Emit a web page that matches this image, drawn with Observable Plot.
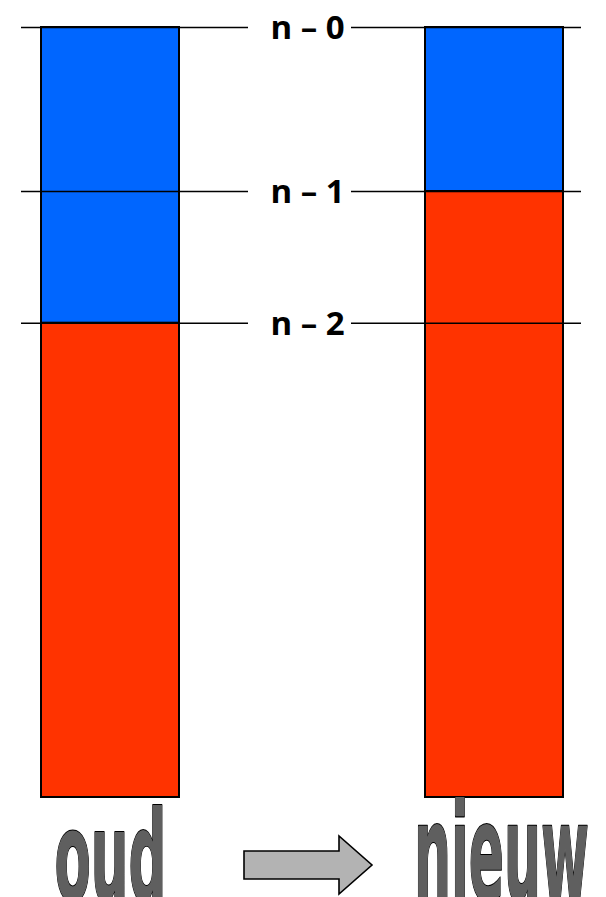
<!DOCTYPE html>
<html>
<head>
<meta charset="utf-8">
<script src="https://cdn.jsdelivr.net/npm/d3@7"></script>
<script src="https://cdn.jsdelivr.net/npm/@observablehq/plot@0.6"></script>
<style>
  html, body { margin: 0; padding: 0; background: #fff; }
  #chart svg { display: block; }
</style>
</head>
<body>
<div id="chart"></div>
<script>
// Categories (periods)
const periods = ["oud", "nieuw"];
// Segment values per period (bottom segment first), total = 100
const redValues = [61.6, 78.7];
const blueValues = [38.4, 21.3];
// Horizontal reference levels and their labels
const levels = [100, 78.7, 61.6];
const levelLabels = ["n – 0", "n – 1", "n – 2"];

const RED = "#ff3300";
const BLUE = "#0066ff";

const rows = [];
periods.forEach((p, i) => {
  rows.push({period: p, segment: "red", value: redValues[i]});
  rows.push({period: p, segment: "blue", value: blueValues[i]});
});
const levelRows = levels.map((v, i) => ({level: v, label: levelLabels[i]}));

// block arrow decoration between the two bars
function arrowMark(index, scales, values, dims) {
  const x0 = scales.x("oud") + scales.x.bandwidth() + 65;
  const len = 128, head = 33, bodyH = 28, headH = 58;
  const cy = dims.height - dims.marginBottom + 68;
  const xb = x0 + len - head;
  const d = `M${x0},${cy - bodyH/2} L${xb},${cy - bodyH/2} L${xb},${cy - headH/2} L${x0 + len},${cy} L${xb},${cy + headH/2} L${xb},${cy + bodyH/2} L${x0},${cy + bodyH/2} Z`;
  return d3.create("svg:path")
    .attr("d", d)
    .attr("fill", "#b3b3b3")
    .attr("stroke", "#000")
    .attr("stroke-width", 1.6)
    .node();
}

const wordStyle = {
  frameAnchor: "bottom",
  lineAnchor: "bottom",
  dy: 102,
  fontSize: 52,
  fontWeight: "bold",
  fontFamily: "DejaVu Sans",
  fill: "#5f5f5f",
  stroke: "#000",
  strokeWidth: 0.8
};

const plot = Plot.plot({
  width: 606,
  height: 897,
  marginTop: 27,
  marginBottom: 100,
  marginLeft: 0,
  marginRight: 0,
  x: {domain: periods, range: [41, 563], paddingInner: 0.641, paddingOuter: 0, axis: null},
  y: {domain: [0, 100], axis: null},
  style: {background: "#fff", overflow: "visible"},
  marks: [
    Plot.barY(rows, {
      x: "period",
      y: "value",
      fill: d => d.segment === "red" ? RED : BLUE,
      stroke: "#000",
      strokeWidth: 2
    }),
    Plot.ruleY(levels, {stroke: "#000", strokeWidth: 1.6, insetLeft: 21, insetRight: 358}),
    Plot.ruleY(levels, {stroke: "#000", strokeWidth: 1.6, insetLeft: 351, insetRight: 25}),
    Plot.text(levelRows, {
      y: "level",
      text: "label",
      dx: 4,
      dy: 1,
      fontSize: 33,
      fontWeight: "bold",
      fontFamily: "Open Sans",
      fill: "#000"
    }),
    Plot.text([periods[0]], {...wordStyle, x: d => d, text: d => d, className: "word-oud"}),
    Plot.text([periods[1]], {...wordStyle, x: d => d, text: d => d, dx: 7, className: "word-nieuw"}),
    arrowMark
  ]
});

// stretch the big words vertically (WordArt-like)
function stretch(sel, sx, sy) {
  d3.select(plot).selectAll(sel + " text").each(function() {
    const t = this.getAttribute("transform") || "";
    this.setAttribute("transform", t + ` scale(${sx},${sy})`);
    this.setAttribute("paint-order", "stroke");
    this.setAttribute("stroke-linejoin", "round");
  });
}
stretch(".word-oud", 1.02, 2.4);
stretch(".word-nieuw", 1.0, 2.6);

document.getElementById("chart").appendChild(plot);
</script>
</body>
</html>
